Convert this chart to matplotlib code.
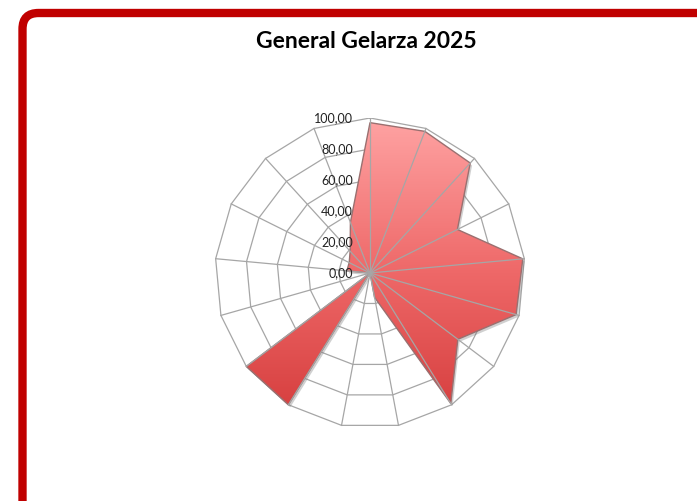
import matplotlib
matplotlib.use("Agg")
import matplotlib.pyplot as plt
import numpy as np
from matplotlib.patches import FancyBboxPatch, Polygon
from matplotlib.colors import LinearSegmentedColormap

title = "General Gelarza 2025"
values = [97, 98, 96, 63, 99, 98, 71, 99, 16, 0, 100, 100, 0, 15, 15, 19, 35]
ticks = [0, 20, 40, 60, 80, 100]
tick_labels = ["0,00", "20,00", "40,00", "60,00", "80,00", "100,00"]

W, H = 697, 501
fig = plt.figure(figsize=(W / 100, H / 100), dpi=100)

# frame with rounded red border, running off the right and bottom edges
bg = fig.add_axes([0, 0, 1, 1])
bg.set_xlim(0, W)
bg.set_ylim(H, 0)
bg.axis("off")
bg.add_patch(FancyBboxPatch((22.5, 13), 760, 520,
                            boxstyle="round,pad=0,rounding_size=16",
                            fc="white", ec="#c00000", lw=6))
bg.text(366, 41, title, ha="center", va="center", fontsize=16.5,
        fontweight="bold", family="Lato", color="black")

# radar area: centre (370, 273), radius 155 px
cx, cy, R = 370, 273, 155
ax = fig.add_axes([(cx - R) / W, (H - cy - R) / H, 2 * R / W, 2 * R / H])
ax.set_xlim(-100, 100)
ax.set_ylim(-100, 100)
ax.axis("off")

n = len(values)
ang = np.arange(n) * 2 * np.pi / n
ux, uy = np.sin(ang), np.cos(ang)
grid_c = "#a6a6a6"

# polygonal rings
for t in ticks[1:]:
    ax.plot(np.append(ux, ux[0]) * t, np.append(uy, uy[0]) * t,
            color=grid_c, lw=0.9, zorder=1)

vals = np.array(values, dtype=float)
pts = np.column_stack([ux * vals, uy * vals])

# soft drop shadow
shadow = Polygon(pts + [1.2, -1.6], closed=True, fc="#7a7a7a", ec="none",
                 alpha=0.35, zorder=2)
ax.add_patch(shadow)

# series fill with vertical gradient
poly = Polygon(pts, closed=True, fc="none", ec="#9a7070", lw=1.0, zorder=4)
ax.add_patch(poly)
cmap = LinearSegmentedColormap.from_list(
    "fillgrad", ["#d43a3a", "#ee6868", "#ffa3a3"])
grad = np.linspace(0, 1, 256).reshape(-1, 1)
img = ax.imshow(grad, extent=[-100, 100, -100, 100], origin="lower",
                cmap=cmap, aspect="auto", zorder=3)
img.set_clip_path(poly)

# spokes on top of the fill
for x, y in zip(ux, uy):
    ax.plot([0, x * 100], [0, y * 100], color=grid_c, lw=0.9, zorder=5)

for t, lab in zip(ticks, tick_labels):
    ax.text(-11, t, lab, ha="right", va="center", fontsize=9,
            family="Lato", color="#222222", zorder=6)

fig.savefig("out.png", dpi=100)
